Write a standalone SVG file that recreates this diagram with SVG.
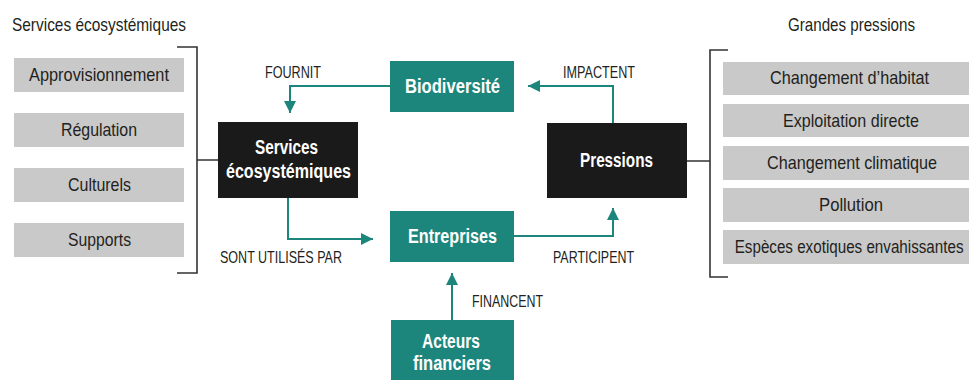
<svg xmlns="http://www.w3.org/2000/svg" width="971" height="380" viewBox="0 0 971 380">
<defs>
<style>
.t{font-family:"Liberation Sans",Arial,sans-serif;fill:#231f20}
.body{font-size:19px}
.lbl{font-size:16.5px}
.b{font-family:"Liberation Sans",Arial,sans-serif;font-weight:bold;font-size:20px;fill:#fff}
.gray{fill:#c9c9c9}
.teal{fill:#1c857c}
.dark{fill:#1a1a1a}
.con{fill:none;stroke:#1c857c;stroke-width:2}
.br{fill:none;stroke:#333;stroke-width:1.6}
</style>
<marker id="ah" markerUnits="userSpaceOnUse" markerWidth="14" markerHeight="12" viewBox="0 0 14 12" refX="12" refY="6" orient="auto">
<path d="M0,0 L12,6 L0,12 Z" fill="#1c857c"/>
</marker>
</defs>
<rect width="971" height="380" fill="#fff"/>

<text class="t body" x="12" y="31" textLength="174" lengthAdjust="spacingAndGlyphs">Services écosystémiques</text>
<text class="t body" x="788" y="31" textLength="127" lengthAdjust="spacingAndGlyphs">Grandes pressions</text>

<g id="left-list">
<rect class="gray" x="14" y="58" width="170" height="34"/>
<text class="t body" x="29" y="81" textLength="140" lengthAdjust="spacingAndGlyphs">Approvisionnement</text>
<rect class="gray" x="14" y="113" width="170" height="34"/>
<text class="t body" x="61" y="136" textLength="76" lengthAdjust="spacingAndGlyphs">Régulation</text>
<rect class="gray" x="14" y="168" width="170" height="34"/>
<text class="t body" x="68" y="191" textLength="63" lengthAdjust="spacingAndGlyphs">Culturels</text>
<rect class="gray" x="14" y="223" width="170" height="34"/>
<text class="t body" x="68" y="246" textLength="63" lengthAdjust="spacingAndGlyphs">Supports</text>
<path class="br" d="M177,47 H197 V273 H177 M197,160 H218"/>
</g>

<g id="right-list">
<path class="br" d="M728,50 H710 V277 H728 M687,161 H710"/>
<rect class="gray" x="723" y="62" width="246" height="33"/>
<text class="t body" x="770" y="84" textLength="159" lengthAdjust="spacingAndGlyphs">Changement d’habitat</text>
<rect class="gray" x="723" y="104" width="246" height="33"/>
<text class="t body" x="783" y="127" textLength="136" lengthAdjust="spacingAndGlyphs">Exploitation directe</text>
<rect class="gray" x="723" y="146" width="246" height="34"/>
<text class="t body" x="767" y="169" textLength="170" lengthAdjust="spacingAndGlyphs">Changement climatique</text>
<rect class="gray" x="723" y="188" width="246" height="34"/>
<text class="t body" x="819" y="211" textLength="64" lengthAdjust="spacingAndGlyphs">Pollution</text>
<rect class="gray" x="723" y="230" width="246" height="34"/>
<text class="t" font-size="18.5" transform="scale(0.82,1)" x="896" y="253" textLength="279" lengthAdjust="spacingAndGlyphs">Espèces exotiques envahissantes</text>
</g>

<g id="services">
<rect class="dark" x="218" y="122" width="140" height="76"/>
<text class="b" x="255" y="154" textLength="63" lengthAdjust="spacingAndGlyphs">Services</text>
<text class="b" x="226" y="178" textLength="125" lengthAdjust="spacingAndGlyphs">écosystémiques</text>
</g>

<g id="biodiversite">
<rect class="teal" x="390" y="61" width="124" height="51"/>
<text class="b" x="405" y="93" textLength="95" lengthAdjust="spacingAndGlyphs">Biodiversité</text>
</g>

<g id="entreprises">
<rect class="teal" x="390" y="211" width="124" height="51"/>
<text class="b" x="408" y="243" textLength="89" lengthAdjust="spacingAndGlyphs">Entreprises</text>
</g>

<g id="pressions">
<rect class="dark" x="547" y="123" width="140" height="75"/>
<text class="b" x="580" y="167" textLength="73" lengthAdjust="spacingAndGlyphs">Pressions</text>
</g>

<g id="acteurs">
<rect class="teal" x="391" y="320" width="123" height="62"/>
<text class="b" x="422" y="348" textLength="58" lengthAdjust="spacingAndGlyphs">Acteurs</text>
<text class="b" x="413" y="370" textLength="78" lengthAdjust="spacingAndGlyphs">financiers</text>
</g>

<g id="connectors">
<path class="con" d="M390,86 H290 V113" marker-end="url(#ah)"/>
<path class="con" d="M613,123 V86 H528" marker-end="url(#ah)"/>
<path class="con" d="M288,198 V239 H373" marker-end="url(#ah)"/>
<path class="con" d="M514,236 H613 V208" marker-end="url(#ah)"/>
<path class="con" d="M452,320 V273" marker-end="url(#ah)"/>
<text class="t lbl" x="265" y="78" textLength="56" lengthAdjust="spacingAndGlyphs">FOURNIT</text>
<text class="t lbl" x="563" y="78" textLength="72" lengthAdjust="spacingAndGlyphs">IMPACTENT</text>
<text class="t lbl" x="220" y="263" textLength="122" lengthAdjust="spacingAndGlyphs">SONT UTILISÉS PAR</text>
<text class="t lbl" x="553" y="263" textLength="81" lengthAdjust="spacingAndGlyphs">PARTICIPENT</text>
<text class="t lbl" x="472" y="307" textLength="71" lengthAdjust="spacingAndGlyphs">FINANCENT</text>
</g>
</svg>
